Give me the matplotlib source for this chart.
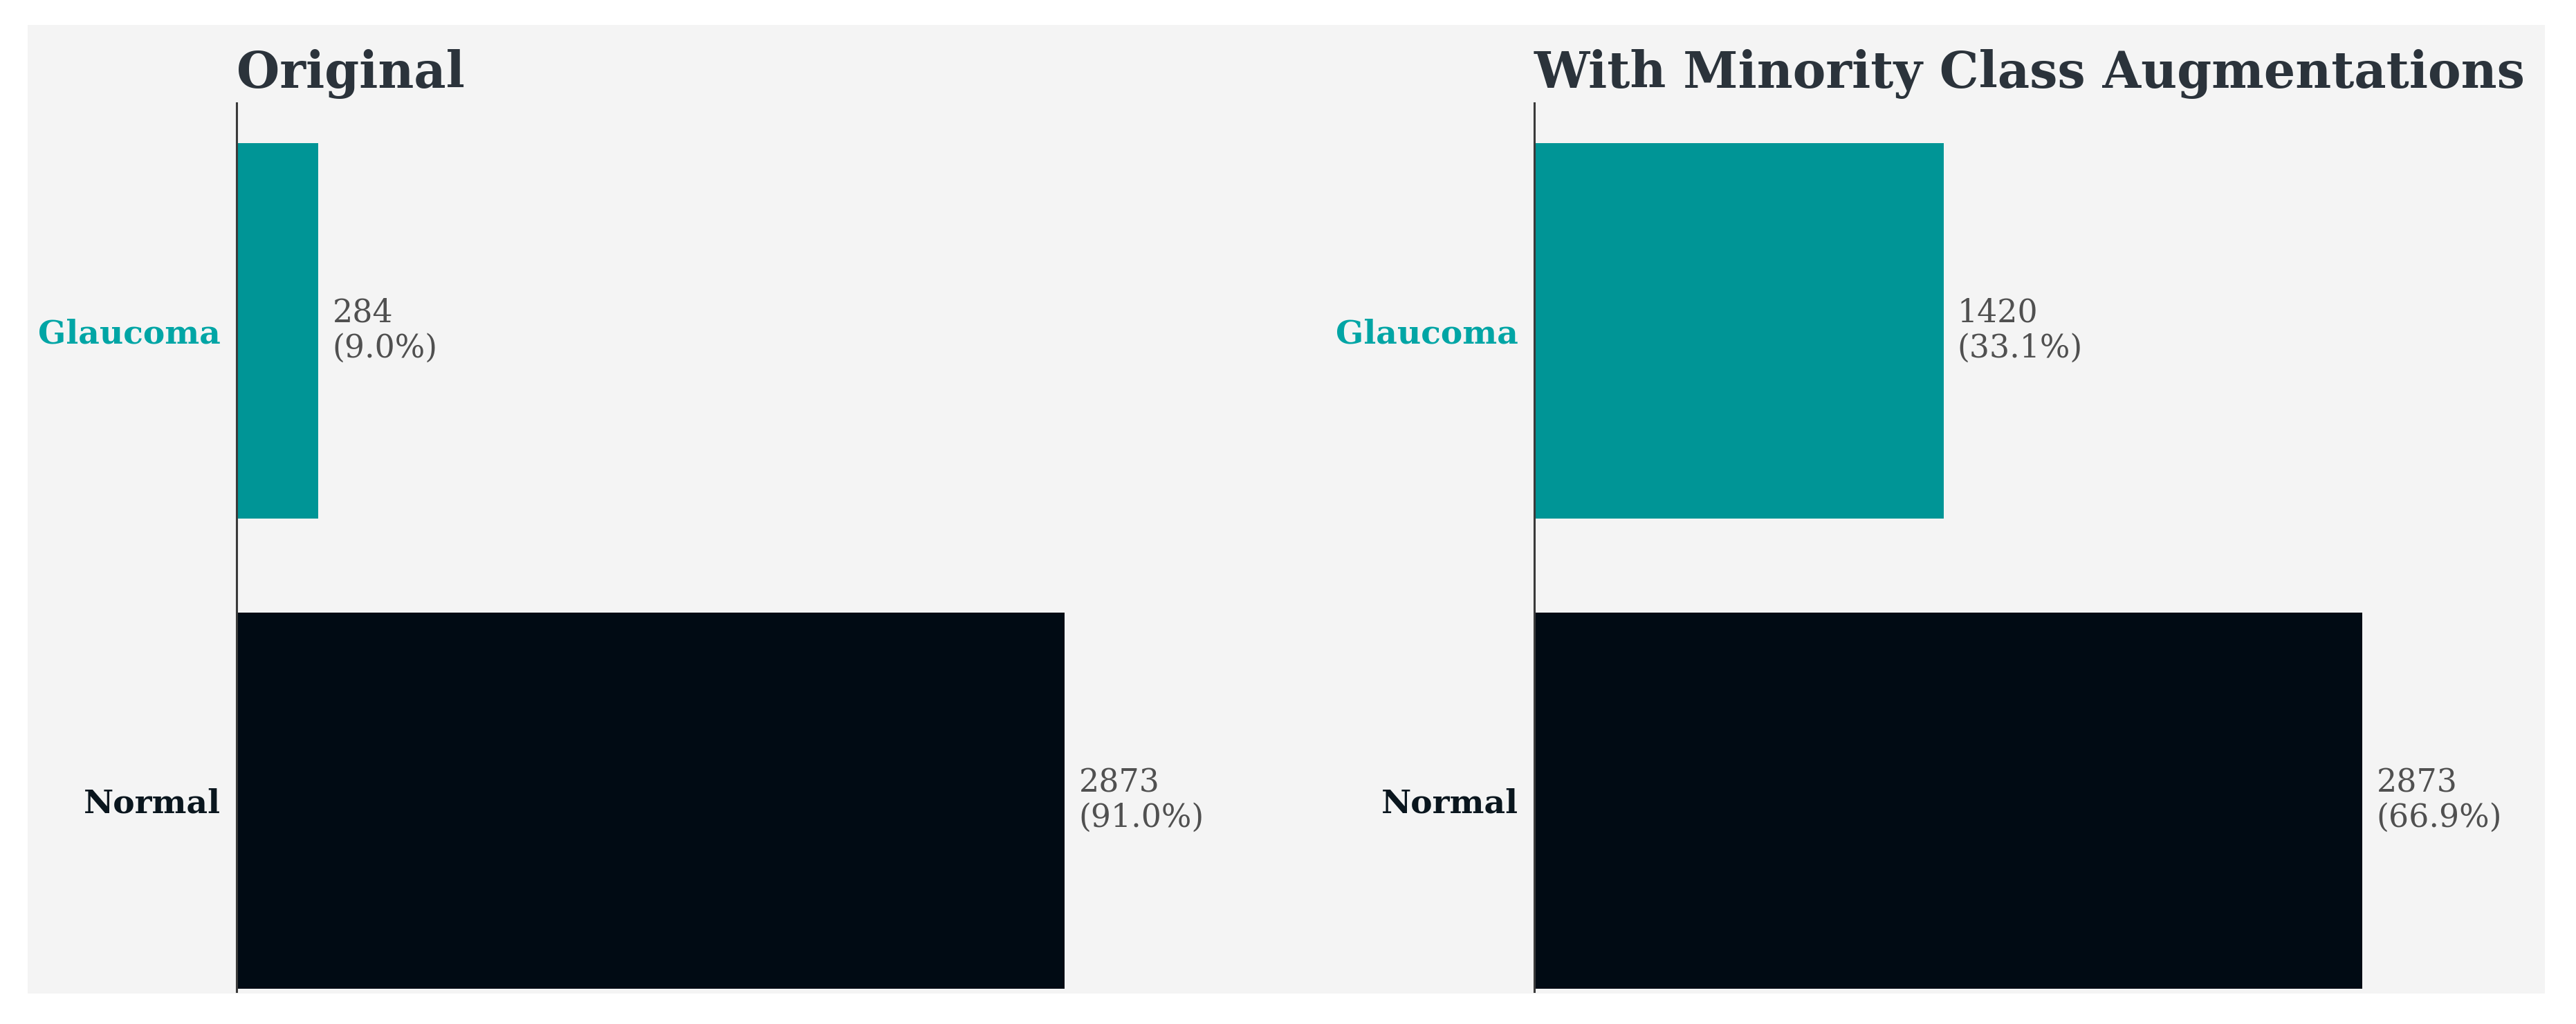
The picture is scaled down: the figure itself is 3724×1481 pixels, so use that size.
import matplotlib
matplotlib.use("Agg")
import matplotlib.pyplot as plt
from matplotlib.patches import Rectangle

categories = ["Glaucoma", "Normal"]
original_counts = [284, 2873]
augmented_counts = [1420, 2873]
titles = ["Original", "With Minority Class Augmentations"]

bar_colors = ["#009596", "#010b14"]
label_colors = ["#00a5a5", "#0a161e"]
bg = "#f4f4f4"

plt.rcParams["font.family"] = "DejaVu Serif"

W, H = 3724, 1481
dpi = 100
fig = plt.figure(figsize=(W / dpi, H / dpi), dpi=dpi, facecolor="white")
fig.patches.append(Rectangle((40 / W, 1 - 1437 / H), (3679 - 40) / W, (1437 - 36) / H,
                             transform=fig.transFigure, facecolor=bg, edgecolor="none", zorder=-10))

xmax = 3400
ax_w = xmax * 0.4168 / W
ax_bottom = 0.0314
ax_h = 0.8677
lefts = [342 / W, 2218 / W]

for left, counts, title in zip(lefts, [original_counts, augmented_counts], titles):
    ax = fig.add_axes([left, ax_bottom, ax_w, ax_h])
    ax.set_facecolor("none")
    y = list(range(len(categories)))
    ax.barh(y, counts, height=0.8, color=bar_colors)
    ax.set_xlim(0, xmax)
    ax.set_ylim(1.407, -0.484)
    ax.set_yticks(y)
    ax.set_yticklabels(categories, fontsize=34, fontweight="bold")
    for t, c in zip(ax.get_yticklabels(), label_colors):
        t.set_color(c)
    ax.tick_params(axis="y", length=0, pad=17)
    ax.set_xticks([])
    for s in ["top", "right", "bottom"]:
        ax.spines[s].set_visible(False)
    ax.spines["left"].set_color("#3a3a3a")
    ax.spines["left"].set_linewidth(2.2)
    total = sum(counts)
    for yi, v in zip(y, counts):
        ax.text(v + 48, yi, f"{v}\n({v / total * 100:.1f}%)", va="center", ha="left",
                fontsize=33, color="#505050", linespacing=1.15)
    ax.set_title(title, loc="left", fontsize=51.5, fontweight="bold", color="#2b333b", pad=16)

fig.savefig("out.png", dpi=dpi, facecolor="white")
